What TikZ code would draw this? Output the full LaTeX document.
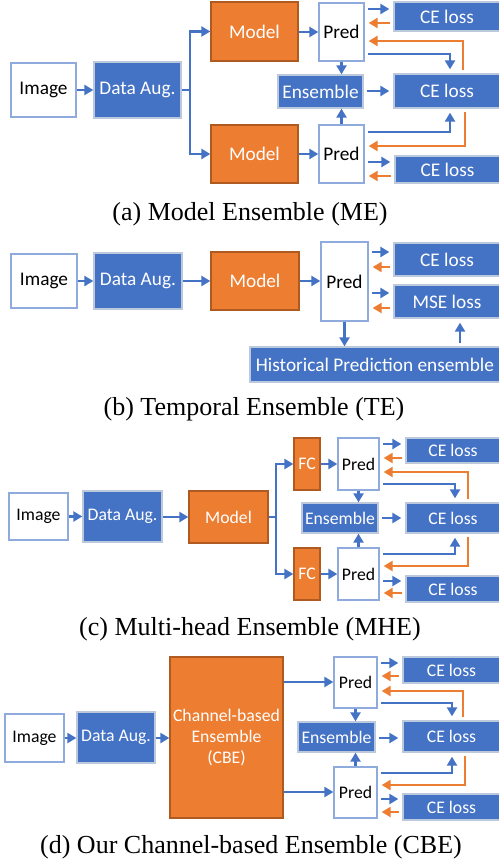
\documentclass[tikz,border=0pt]{standalone}
\usepackage{fontspec}
\setmainfont{Liberation Serif}
\newfontfamily\calibri{Carlito}
\usetikzlibrary{arrows.meta, positioning}
\definecolor{myblue}{HTML}{4472C4}
\definecolor{myorange}{HTML}{ED7D31}
\definecolor{darkorange}{HTML}{AE5A21}
\definecolor{paleblue}{HTML}{8FAADC}
\definecolor{palegrey}{HTML}{BCC8DC}
\tikzset{
	box/.style={inner sep=1pt, line width=1.3pt, align=center, font=\calibri\fontsize{19.3}{23}\selectfont},
	smallbox/.style={box, font=\calibri\fontsize{17.7}{21}\selectfont},
	whitebox/.style={draw=paleblue, fill=white, text=black},
	bluebox/.style={draw=palegrey, fill=myblue, text=white},
	orangebox/.style={draw=darkorange, fill=myorange, text=white},
	bline/.style={draw=myblue, line width=2.8pt},
	barrow/.style={bline, -{Triangle[length=9pt,width=10pt]}},
	oarrow/.style={draw=myorange, line width=2.8pt, -{Triangle[length=9pt,width=10pt]}},
	gap/.style={shorten <=3pt, shorten >=4pt},
	caption/.style={anchor=base, font=\fontsize{26}{30}\selectfont}
}
\begin{document}
\begin{tikzpicture}[x=1pt, y=-1pt]
	\useasboundingbox (0,0) rectangle (498,866);
	
	% (a) Model Ensemble
	\node[box, whitebox, minimum width=65, minimum height=54] (imgA) at (43.5,90) {Image};
	\node[box, bluebox, minimum width=87, minimum height=56] (augA) at (137.5,90) {Data Aug.};
	\node[box, orangebox, minimum width=87, minimum height=59] (modA1) at (254.5,31.5) {Model};
	\node[box, orangebox, minimum width=87, minimum height=58] (modA2) at (254.5,154) {Model};
	\node[box, whitebox, minimum width=45, minimum height=58] (predA1) at (341.5,32) {Pred};
	\node[box, whitebox, minimum width=45, minimum height=58] (predA2) at (341.5,154) {Pred};
	\node[box, bluebox, minimum width=85, minimum height=33] (ensA) at (320.5,91.5) {Ensemble};
	\node[box, bluebox, minimum width=106, minimum height=29] (ceA1) at (447,16.5) {CE loss};
	\node[box, bluebox, minimum width=106, minimum height=34] (ceA2) at (447,91) {CE loss};
	\node[box, bluebox, minimum width=105, minimum height=27] (ceA3) at (447.5,169.5) {CE loss};
	\coordinate (brA) at (190,90);
	
	% Arrows
	\draw[barrow] (imgA) -- (augA);
	\draw[bline] (augA.east) -- (brA);
	\draw[barrow] (brA) |- (modA1.west);
	\draw[barrow] (brA) |- (modA2.west);
	\draw[barrow] (modA1.east |- 0,32) -- (predA1.west |- 0,32);
	\draw[barrow] (modA2.east |- 0,154) -- (predA2.west |- 0,154);
	\draw[barrow, gap] (predA1.east |- 0,9) -- (ceA1.west |- 0,9);
	\draw[oarrow, gap] (ceA1.west |- 0,23) -- (predA1.east |- 0,23);
	\draw[oarrow, gap] (ceA2.north -| 463,0) |- (predA1.east |- 0,41);
	\draw[barrow, gap] (predA1.east |- 0,54) -| (ceA2.north -| 450,0);
	\draw[barrow] (predA1.south) -- (predA1.south |- ensA.north);
	\draw[barrow, gap] (ensA.east |- 0,91) -- (ceA2.west |- 0,91);
	\draw[barrow] (predA2.north) -- (predA2.north |- ensA.south);
	\draw[barrow, gap] (predA2.east |- 0,132) -| (ceA2.south -| 450,0);
	\draw[oarrow, gap] (ceA2.south -| 465,0) |- (predA2.east |- 0,146);
	\draw[barrow, gap] (predA2.east |- 0,162) -- (ceA3.west |- 0,162);
	\draw[oarrow, gap] (ceA3.west |- 0,176) -- (predA2.east |- 0,176);
	\node[caption] (capA) at (250,221) {(a) Model Ensemble (ME)};
	
	% (b) Temporal Ensemble
	\node[box, whitebox, minimum width=66, minimum height=54] (imgB) at (44,281) {Image};
	\node[box, bluebox, minimum width=88, minimum height=56] (augB) at (138,281) {Data Aug.};
	\node[box, orangebox, minimum width=88, minimum height=58] (modB) at (255,281) {Model};
	\node[box, whitebox, minimum width=47, minimum height=79] (predB) at (344.5,281.5) {Pred};
	\node[box, bluebox, minimum width=106, minimum height=33] (ceB) at (447,259.5) {CE loss};
	\node[box, bluebox, minimum width=106, minimum height=33] (mseB) at (447,301.5) {MSE loss};
	\node[box, bluebox, minimum width=250, minimum height=35] (histB) at (375,364.5) {Historical Prediction ensemble};
	
	% Arrows
	\draw[barrow] (imgB) -- (augB);
	\draw[barrow] (augB) -- (modB);
	\draw[barrow] (modB.east) -- (predB.west |- modB.east);
	\draw[barrow, gap] (predB.east |- 0,252) -- (ceB.west |- 0,252);
	\draw[oarrow, gap] (ceB.west |- 0,267) -- (predB.east |- 0,267);
	\draw[barrow, gap] (predB.east |- 0,293) -- (mseB.west |- 0,293);
	\draw[oarrow, gap] (mseB.west |- 0,308) -- (predB.east |- 0,308);
	\draw[barrow] (predB.south) -- (predB.south |- histB.north);
	\draw[barrow, gap] (histB.north -| 460,0) -- (mseB.south -| 460,0);
	\node[caption] (capB) at (254,415) {(b) Temporal Ensemble (TE)};
	
	% (c) Multi-head Ensemble
	\node[smallbox, whitebox, minimum width=59, minimum height=47] (imgC) at (38.5,516.5) {Image};
	\node[smallbox, bluebox, minimum width=79, minimum height=51] (augC) at (122.5,516.5) {Data Aug.};
	\node[smallbox, orangebox, minimum width=79, minimum height=52] (modC) at (228.5,517) {Model};
	\node[smallbox, orangebox, minimum width=26, minimum height=52] (fcC1) at (307,464) {FC};
	\node[smallbox, orangebox, minimum width=26, minimum height=52] (fcC2) at (307,574) {FC};
	\node[smallbox, whitebox, minimum width=41, minimum height=52] (predC1) at (358.5,464) {Pred};
	\node[smallbox, whitebox, minimum width=41, minimum height=52] (predC2) at (358.5,574) {Pred};
	\node[smallbox, bluebox, minimum width=76, minimum height=30] (ensC) at (340,518) {Ensemble};
	\node[smallbox, bluebox, minimum width=94, minimum height=25] (ceC1) at (453,450.5) {CE loss};
	\node[smallbox, bluebox, minimum width=94, minimum height=30] (ceC2) at (453,518) {CE loss};
	\node[smallbox, bluebox, minimum width=94, minimum height=26] (ceC3) at (453,589) {CE loss};
	\coordinate (brC) at (276,517);
	
	% Arrows
	\draw[barrow] (imgC) -- (augC);
	\draw[barrow] (augC.east |- 0,517) -- (modC.west);
	\draw[bline] (modC.east) -- (brC);
	\draw[barrow] (brC) |- (fcC1.west);
	\draw[barrow] (brC) |- (fcC2.west);
	\draw[barrow] (fcC1) -- (predC1);
	\draw[barrow] (fcC2) -- (predC2);
	\draw[barrow, gap] (predC1.east |- 0,444) -- (ceC1.west |- 0,444);
	\draw[oarrow, gap] (ceC1.west |- 0,458) -- (predC1.east |- 0,458);
	\draw[oarrow, gap] (ceC2.north -| 468,0) |- (predC1.east |- 0,472);
	\draw[barrow, gap] (predC1.east |- 0,484) -| (ceC2.north -| 455,0);
	\draw[barrow] (predC1.south) -- (predC1.south |- ensC.north);
	\draw[barrow, gap] (ensC) -- (ceC2);
	\draw[barrow] (predC2.north) -- (predC2.north |- ensC.south);
	\draw[barrow, gap] (predC2.east |- 0,554) -| (ceC2.south -| 455,0);
	\draw[oarrow, gap] (ceC2.south -| 468,0) |- (predC2.east |- 0,566);
	\draw[barrow, gap] (predC2.east |- 0,581) -- (ceC3.west |- 0,581);
	\draw[oarrow, gap] (ceC3.west |- 0,593) -- (predC2.east |- 0,593);
	\node[caption] (capC) at (250,635) {(c) Multi-head Ensemble (MHE)};
	
	% (d) Our Channel-based Ensemble
	\node[smallbox, whitebox, minimum width=59, minimum height=48] (imgD) at (34.5,738) {Image};
	\node[smallbox, bluebox, minimum width=78, minimum height=51] (augD) at (116,737.5) {Data Aug.};
	\node[smallbox, orangebox, minimum width=113, minimum height=161] (cbeD) at (226.5,737.5) {Channel-based\\Ensemble\\(CBE)};
	\node[smallbox, whitebox, minimum width=43, minimum height=51] (predD1) at (355.5,682.5) {Pred};
	\node[smallbox, whitebox, minimum width=43, minimum height=51] (predD2) at (355.5,792.5) {Pred};
	\node[smallbox, bluebox, minimum width=77, minimum height=30] (ensD) at (336.5,737) {Ensemble};
	\node[smallbox, bluebox, minimum width=97, minimum height=26] (ceD1) at (451.5,670) {CE loss};
	\node[smallbox, bluebox, minimum width=97, minimum height=31] (ceD2) at (451.5,736.5) {CE loss};
	\node[smallbox, bluebox, minimum width=97, minimum height=26] (ceD3) at (451.5,807) {CE loss};
	
	% Arrows
	\draw[barrow] (imgD) -- (augD.west |- imgD);
	\draw[barrow] (augD.east |- 0,738) -- (cbeD.west |- 0,738);
	\draw[barrow] (cbeD.east |- 0,682) -- (predD1.west |- 0,682);
	\draw[barrow] (cbeD.east |- 0,792) -- (predD2.west |- 0,792);
	\draw[barrow, gap] (predD1.east |- 0,663) -- (ceD1.west |- 0,663);
	\draw[oarrow, gap] (ceD1.west |- 0,676) -- (predD1.east |- 0,676);
	\draw[oarrow, gap] (ceD2.north -| 463,0) |- (predD1.east |- 0,691);
	\draw[barrow, gap] (predD1.east |- 0,703) -| (ceD2.north -| 452,0);
	\draw[barrow] (predD1.south) -- (predD1.south |- ensD.north);
	\draw[barrow, gap] (ensD.east |- 0,738) -- (ceD2.west |- 0,738);
	\draw[barrow] (predD2.north) -- (predD2.north |- ensD.south);
	\draw[barrow, gap] (predD2.east |- 0,773) -| (ceD2.south -| 452,0);
	\draw[oarrow, gap] (ceD2.south -| 465,0) |- (predD2.east |- 0,785);
	\draw[barrow, gap] (predD2.east |- 0,799) -- (ceD3.west |- 0,799);
	\draw[oarrow, gap] (ceD3.west |- 0,812) -- (predD2.east |- 0,812);
	\node[caption] (capD) at (251,853) {(d) Our Channel-based Ensemble (CBE)};
\end{tikzpicture}
\end{document}
